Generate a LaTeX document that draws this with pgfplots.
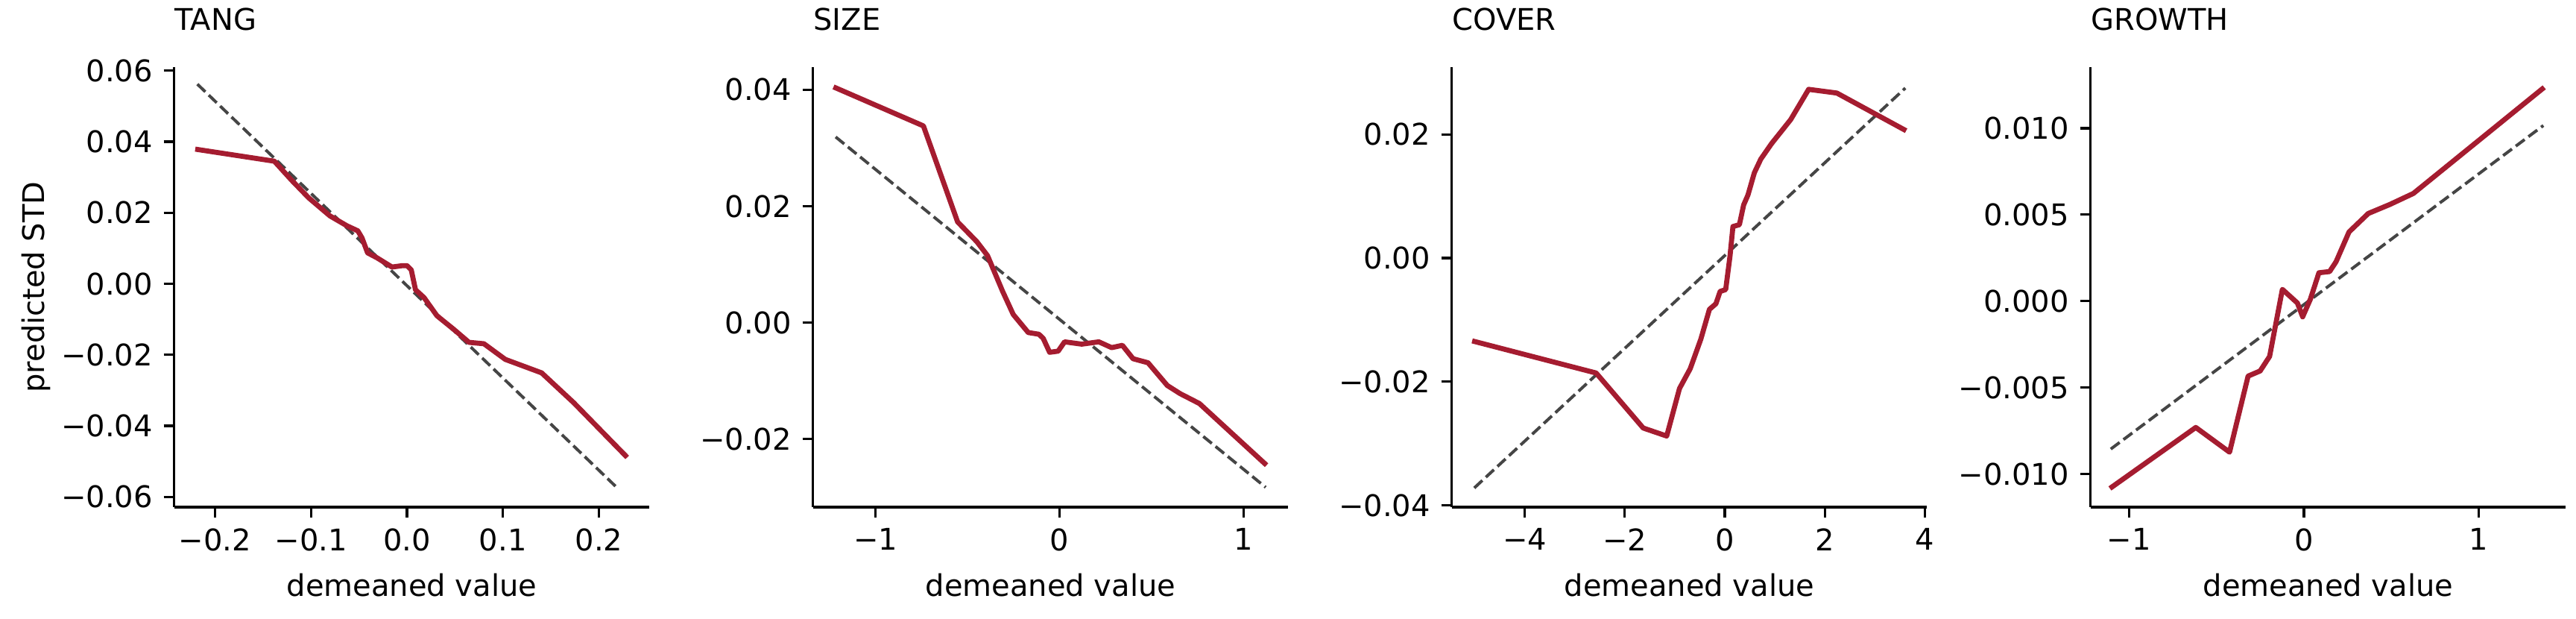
\documentclass[border=0pt]{standalone}
\usepackage{fontspec}
\setmainfont{DejaVu Sans}
\usepackage{pgfplots}
\pgfplotsset{compat=1.18}
\definecolor{crimson}{HTML}{A51C30}
\definecolor{fitgray}{HTML}{454545}

\pgfplotsset{
  panel/.style={
    scale only axis,
    width=159.4pt, height=147.5pt,
    anchor=south west,
    axis lines=left,
    axis line style={-, black, line width=0.8pt},
    tick align=outside,
    major tick length=3.5pt,
    tick style={black, line width=0.8pt},
    scaled x ticks=false, scaled y ticks=false,
    ticklabel style={font=\fontsize{10}{12}\selectfont, inner sep=0pt},
    xticklabel style={anchor=north, yshift=-3.5pt},
    yticklabel style={anchor=east, xshift=-3.5pt},
    xlabel={demeaned value},
    xlabel style={font=\fontsize{10}{12}\selectfont, at={(axis description cs:0.5,0)},
      anchor=base, inner sep=0pt, yshift=-30pt},
    title style={font=\fontsize{10}{12}\selectfont, at={(axis description cs:0,1)},
      anchor=base west, inner sep=0pt, yshift=6.25pt},
    clip=false,
  },
  pdline/.style={crimson, line width=1.7pt, line join=round, mark=none},
  fitline/.style={fitgray, line width=1pt, dash pattern=on 3.7pt off 1.6pt, mark=none},
}

\begin{document}
\begin{tikzpicture}
\path[use as bounding box] (0,0) rectangle (864pt,207.5pt);

% TANG
\begin{axis}[panel, at={(58.4pt,37.5pt)}, title={TANG},
  xmin=-0.2425, xmax=0.2525, ymin=-0.0629, ymax=0.0610,
  xtick={-0.2,-0.1,0,0.1,0.2}, xticklabels={−0.2,−0.1,0.0,0.1,0.2},
  ytick={-0.06,-0.04,-0.02,0,0.02,0.04,0.06},
  yticklabels={−0.06,−0.04,−0.02,0.00,0.02,0.04,0.06},
  ylabel={predicted STD},
  ylabel style={font=\fontsize{10}{12}\selectfont, at={(axis description cs:-0.2727,0.5)},
    anchor=base, inner sep=0pt}]
\addplot[fitline] coordinates {(-0.2183,0.0562) (0.2183,-0.0573)};
\addplot[pdline] coordinates {
  (-0.2205,0.0379) (-0.1381,0.0345) (-0.1203,0.0292) (-0.1024,0.0242)
  (-0.0802,0.0191) (-0.0624,0.0163) (-0.0512,0.0149) (-0.0468,0.0129)
  (-0.0410,0.0087) (-0.0312,0.0073) (-0.0156,0.0047) (-0.0045,0.0051)
  (0.0000,0.0051) (0.0045,0.0039) (0.0089,-0.0017) (0.0178,-0.0039)
  (0.0312,-0.0090) (0.0490,-0.0129) (0.0646,-0.0165) (0.0802,-0.0169)
  (0.1024,-0.0213) (0.1403,-0.0251) (0.1737,-0.0335) (0.2294,-0.0489)};
\end{axis}

% SIZE
\begin{axis}[panel, at={(272.65pt,37.5pt)}, title={SIZE},
  xmin=-1.34, xmax=1.243, ymin=-0.0317, ymax=0.0439,
  xtick={-1,0,1}, xticklabels={−1,0,1},
  ytick={-0.02,0,0.02,0.04}, yticklabels={−0.02,0.00,0.02,0.04}]
\addplot[fitline] coordinates {(-1.2163,0.0319) (1.1209,-0.0283)};
\addplot[pdline] coordinates {
  (-1.228,0.0405) (-0.7395,0.0338) (-0.5535,0.0173) (-0.4488,0.0139)
  (-0.3907,0.0115) (-0.3093,0.0054) (-0.2512,0.0014) (-0.1698,-0.0017)
  (-0.1116,-0.0020) (-0.0884,-0.0027) (-0.0535,-0.0051) (-0.0070,-0.0049)
  (0.0279,-0.0033) (0.1210,-0.0037) (0.2140,-0.0033) (0.2837,-0.0043)
  (0.3419,-0.0039) (0.4000,-0.0062) (0.4814,-0.0069) (0.5860,-0.0108)
  (0.6558,-0.0122) (0.7605,-0.0139) (1.1256,-0.0245)};
\end{axis}

% COVER
\begin{axis}[panel, at={(486.9pt,37.5pt)}, title={COVER},
  xmin=-5.46, xmax=4.04, ymin=-0.0403, ymax=0.0309,
  xtick={-4,-2,0,2,4}, xticklabels={−4,−2,0,2,4},
  ytick={-0.04,-0.02,0,0.02}, yticklabels={−0.04,−0.02,0.00,0.02}]
\addplot[fitline] coordinates {(-5.009,-0.0372) (3.607,0.0275)};
\addplot[pdline] coordinates {
  (-5.051,-0.0134) (-2.573,-0.0186) (-1.632,-0.0275) (-1.162,-0.0288)
  (-0.906,-0.0211) (-0.692,-0.0179) (-0.479,-0.0131) (-0.308,-0.0083)
  (-0.179,-0.0074) (-0.094,-0.0054) (0.017,-0.0051) (0.103,0.0003)
  (0.162,0.0051) (0.291,0.0054) (0.376,0.0086) (0.462,0.0102)
  (0.590,0.0138) (0.718,0.0160) (0.932,0.0185) (1.316,0.0224)
  (1.675,0.0273) (2.239,0.0267) (3.624,0.0206)};
\end{axis}

% GROWTH
\begin{axis}[panel, at={(701.15pt,37.5pt)}, title={GROWTH},
  xmin=-1.22, xmax=1.497, ymin=-0.01192, ymax=0.01354,
  xtick={-1,0,1}, xticklabels={−1,0,1},
  ytick={-0.01,-0.005,0,0.005,0.01},
  yticklabels={−0.010,−0.005,0.000,0.005,0.010}]
\addplot[fitline] coordinates {(-1.104,-0.00856) (1.369,0.01016)};
\addplot[pdline] coordinates {
  (-1.109,-0.01084) (-0.618,-0.00731) (-0.425,-0.00874) (-0.319,-0.00434)
  (-0.250,-0.00404) (-0.196,-0.00320) (-0.123,0.00068) (-0.037,-0.00011)
  (-0.007,-0.00091) (0.037,0.00011) (0.086,0.00164) (0.147,0.00171)
  (0.184,0.00228) (0.258,0.00400) (0.368,0.00507) (0.491,0.00559)
  (0.626,0.00623) (1.374,0.01237)};
\end{axis}
\end{tikzpicture}
\end{document}
